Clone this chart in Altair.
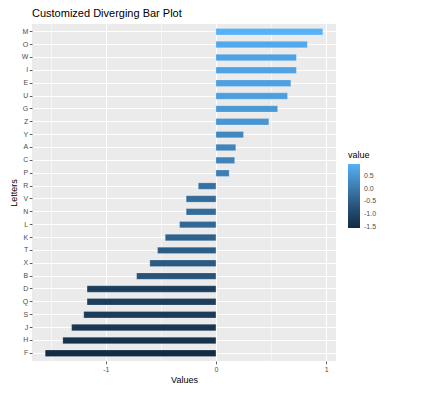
import altair as alt
import pandas as pd

letters = ["M", "O", "W", "I", "E", "U", "G", "Z", "Y", "A", "C", "P", "R",
           "V", "N", "L", "K", "T", "X", "B", "D", "Q", "S", "J", "H", "F"]
values = [0.97, 0.83, 0.73, 0.73, 0.68, 0.65, 0.56, 0.48, 0.25, 0.18, 0.17, 0.12, -0.16,
          -0.27, -0.27, -0.33, -0.46, -0.53, -0.60, -0.72, -1.17, -1.17, -1.20, -1.31, -1.39, -1.55]
x_breaks = [-1.5, -1, -0.5, 0, 0.5, 1]
legend_breaks = [-1.5, -1.0, -0.5, 0.0, 0.5]

df = pd.DataFrame({"Letters": letters, "value": values})

FONT = "Liberation Sans"

bars = alt.Chart(df).mark_bar(stroke="white", strokeOpacity=0.35, strokeWidth=0.6).encode(
    y=alt.Y("Letters:N", sort=letters,
            scale=alt.Scale(paddingInner=0.5, paddingOuter=0.35),
            axis=alt.Axis(title="Letters", bandPosition=0.5, grid=True,
                          gridColor="white", gridWidth=1.1, domain=False,
                          tickColor="#333333", tickSize=2.75, tickWidth=0.8,
                          labelColor="#4D4D4D", labelFontSize=7, labelPadding=1.5,
                          labelFont=FONT, titleFont=FONT, titleFontSize=9,
                          titleFontWeight="normal", titleColor="black", titlePadding=3)),
    x=alt.X("value:Q",
            scale=alt.Scale(domain=[-1.67, 1.09], nice=False, zero=False),
            axis=alt.Axis(title="Values", values=x_breaks,
                          labelExpr="datum.value % 1 === 0 ? '' + datum.value : ''",
                          grid=True, gridColor="white",
                          gridWidth={"condition": {"test": "datum.value % 1 === 0", "value": 1.1}, "value": 0.55},
                          tickOpacity={"condition": {"test": "datum.value % 1 === 0", "value": 1}, "value": 0},
                          domain=False, tickColor="#333333", tickSize=2.75, tickWidth=0.8,
                          labelColor="#4D4D4D", labelFontSize=7, labelPadding=1.5,
                          labelFont=FONT, titleFont=FONT, titleFontSize=9,
                          titleFontWeight="normal", titleColor="black", titlePadding=3)),
    x2=alt.datum(0),
    color=alt.Color("value:Q",
                    scale=alt.Scale(range=["#132B43", "#56B1F7"], interpolate="lab"),
                    legend=alt.Legend(title="value", orient="none", legendX=316, legendY=127,
                                      values=legend_breaks,
                                      labelExpr="replace(format(datum.value, '.1f'), '\u2212', '-')",
                                      gradientLength=64, gradientThickness=12,
                                      labelFontSize=7, labelColor="#4D4D4D", labelFont=FONT,
                                      titleFontSize=9, titleFont=FONT, titleFontWeight="normal",
                                      titleColor="black", titlePadding=4, labelOffset=4)),
)

chart = bars.properties(
    width=304, height=337,
    background="white",
    title=alt.TitleParams("Customized Diverging Bar Plot", anchor="start", frame="group",
                          fontSize=11, font=FONT, fontWeight="normal", color="black", offset=5),
    autosize=alt.AutoSizeParams(type="none"),
    padding={"left": 24, "top": 16, "right": 70, "bottom": 26},
).configure_view(fill="#EBEBEB", stroke=None)

chart.save("out.html", embed_options={"renderer": "svg", "actions": False})
